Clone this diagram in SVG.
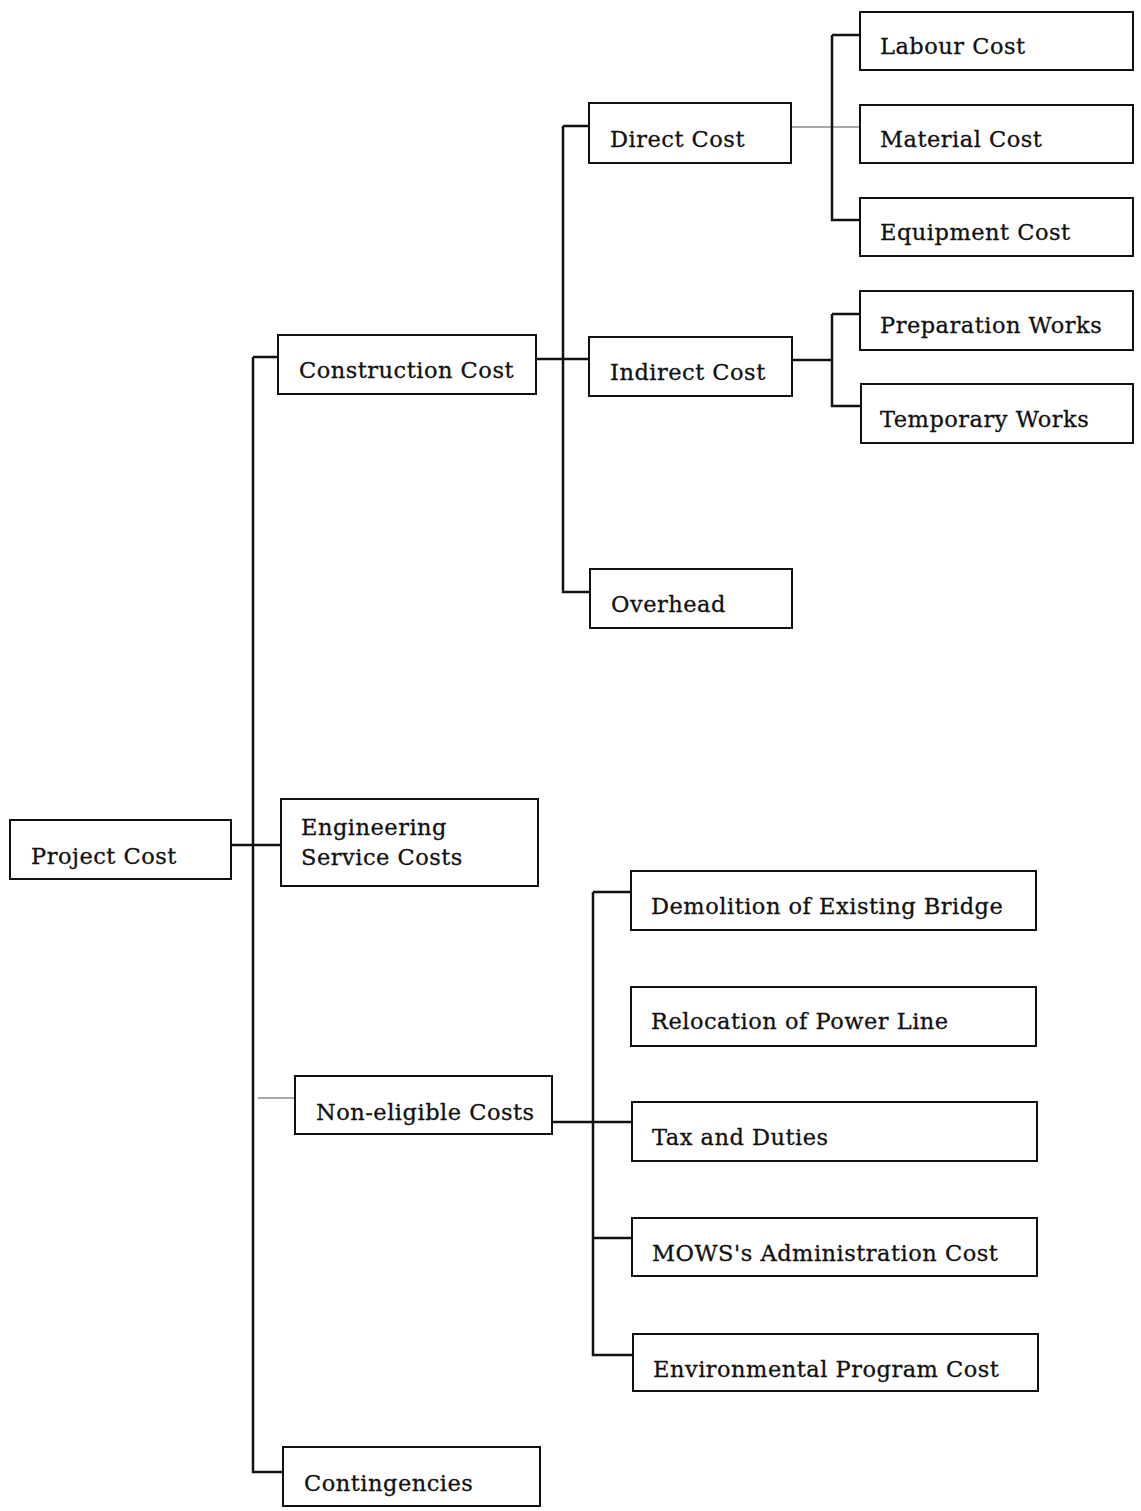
<svg xmlns="http://www.w3.org/2000/svg" width="1141" height="1511" viewBox="0 0 1141 1511">
<style>
.box{fill:#fff;stroke:#111;stroke-width:2}
.t{font-family:"DejaVu Serif","Liberation Serif",serif;font-size:22.5px;fill:#111;letter-spacing:0.5px;stroke:#111;stroke-width:0.3}
.c{fill:none;stroke:#111;stroke-width:2.5}
.thin{fill:none;stroke:#555;stroke-width:1.2}
</style>
<rect width="1141" height="1511" fill="#fff"/>
<g id="connectors">
<path class="c" d="M253 357 H278 M253 357 V1472 H283 M231 845 H281"/>
<path class="thin" d="M258 1098 H295"/>
<path class="c" d="M536 359 H589 M563 126 H589 M563 126 V592 H590"/>
<path class="thin" d="M791 127 H860"/>
<path class="c" d="M832 35 H860 M832 35 V220 H860"/>
<path class="c" d="M792 360 H832 M832 314 H860 M832 314 V406 H861"/>
<path class="c" d="M552 1122 H632 M593 892 H631 M593 892 V1355 H633 M593 1238 H632"/>
</g>
<g id="project-cost"><rect class="box" x="10" y="820" width="221" height="59"/><text class="t" x="31" y="864">Project Cost</text></g>
<g id="construction-cost"><rect class="box" x="278" y="335" width="258" height="59"/><text class="t" x="299" y="378">Construction Cost</text></g>
<g id="engineering-service-costs"><rect class="box" x="281" y="799" width="257" height="87"/><text class="t" x="301" y="835">Engineering</text><text class="t" x="301" y="865">Service Costs</text></g>
<g id="non-eligible-costs"><rect class="box" x="295" y="1076" width="257" height="58"/><text class="t" x="316" y="1120">Non-eligible Costs</text></g>
<g id="contingencies"><rect class="box" x="283" y="1447" width="257" height="59"/><text class="t" x="304" y="1491">Contingencies</text></g>
<g id="direct-cost"><rect class="box" x="589" y="103" width="202" height="60"/><text class="t" x="610" y="147">Direct Cost</text></g>
<g id="indirect-cost"><rect class="box" x="589" y="337" width="203" height="59"/><text class="t" x="610" y="380">Indirect Cost</text></g>
<g id="overhead"><rect class="box" x="590" y="569" width="202" height="59"/><text class="t" x="611" y="612">Overhead</text></g>
<g id="labour-cost"><rect class="box" x="860" y="12" width="273" height="58"/><text class="t" x="880" y="54">Labour Cost</text></g>
<g id="material-cost"><rect class="box" x="860" y="105" width="273" height="58"/><text class="t" x="880" y="147">Material Cost</text></g>
<g id="equipment-cost"><rect class="box" x="860" y="198" width="273" height="58"/><text class="t" x="880" y="240">Equipment Cost</text></g>
<g id="preparation-works"><rect class="box" x="860" y="291" width="273" height="59"/><text class="t" x="880" y="333">Preparation Works</text></g>
<g id="temporary-works"><rect class="box" x="861" y="384" width="272" height="59"/><text class="t" x="880" y="427">Temporary Works</text></g>
<g id="demolition"><rect class="box" x="631" y="871" width="405" height="59"/><text class="t" x="651" y="914">Demolition of Existing Bridge</text></g>
<g id="relocation"><rect class="box" x="631" y="987" width="405" height="59"/><text class="t" x="651" y="1029">Relocation of Power Line</text></g>
<g id="tax-duties"><rect class="box" x="632" y="1102" width="405" height="59"/><text class="t" x="652" y="1145">Tax and Duties</text></g>
<g id="mows-admin"><rect class="box" x="632" y="1218" width="405" height="58"/><text class="t" x="652" y="1261">MOWS's Administration Cost</text></g>
<g id="environmental"><rect class="box" x="633" y="1334" width="405" height="57"/><text class="t" x="653" y="1377">Environmental Program Cost</text></g>
</svg>
